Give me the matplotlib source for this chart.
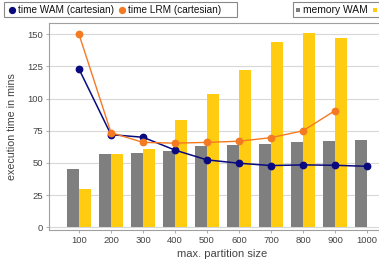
import matplotlib
matplotlib.use("Agg")
import matplotlib.pyplot as plt
from matplotlib.patches import Rectangle
from matplotlib.lines import Line2D
import numpy as np

plt.rcParams['font.family'] = ['Liberation Sans', 'DejaVu Sans']

categories = ["100", "200", "300", "400", "500", "600", "700", "800", "900", "1000"]
memory_wam = [45, 57, 57.5, 59, 63.3, 63.8, 64.6, 66, 67.4, 68.2]
memory_lrm = [30, 57, 61, 83.5, 104, 122, 144.4, 151, 146.8, None]
time_wam = [123, 72, 70, 60, 52.4, 49.8, 48, 48.5, 48.2, 47.4]
time_lrm = [150, 73.6, 66, 65.4, 66, 66.9, 69.7, 75, 90.7, None]
yticks = [0, 25, 50, 75, 100, 125, 150]

W, H = 379, 266
fig = plt.figure(figsize=(W / 100, H / 100), dpi=100)

def fx(px):
    return px / W

def fy(py):
    return 1 - py / H

# axes geometry (px); right side extends beyond the cropped figure
left, top, bottom = 49, 23, 230
step = 32.0
first = 79
x0 = -(first - left) / step
right_px = first + 9 * step + (first - left)
ax = fig.add_axes([fx(left), fy(bottom), (right_px - left) / W, (bottom - top) / H])
ax.set_xlim(x0, 9 + (first - left) / step)
ax.set_ylim(-2.1, 158.8)

x = np.arange(len(categories))
bw = 0.37
gray = "#7f7f7f"
yellow = "#ffcc11"
blue = "#0a0a80"
orange = "#f47a22"

ax.bar(x - bw / 2, memory_wam, width=bw, color=gray, zorder=2)
ly = [v if v is not None else np.nan for v in memory_lrm]
ax.bar(x + bw / 2, ly, width=bw, color=yellow, zorder=2)

tw = np.array(time_wam, dtype=float)
tl = np.array([v if v is not None else np.nan for v in time_lrm], dtype=float)
ax.plot(x, tw, color=blue, lw=1.1, marker='o', ms=4.6, zorder=3)
ax.plot(x, tl, color=orange, lw=1.0, marker='o', ms=4.6, zorder=4)

ax.set_yticks(yticks)
ax.set_xticks(x)
ax.set_xticklabels(categories)
ax.grid(axis='y', color='#d8d8d8', lw=0.8, zorder=0)
ax.set_axisbelow(True)
for s in ['right']:
    ax.spines[s].set_visible(False)
for s in ['left', 'bottom', 'top']:
    ax.spines[s].set_color('#a0a0a0')
    ax.spines[s].set_linewidth(0.8)
ax.tick_params(axis='both', labelsize=6.8, colors='#a0a0a0', labelcolor='#444444', length=2, width=0.6, pad=2.5)

fig.text(fx(12), fy(127), "execution time in mins", rotation=90, ha='center', va='center',
         fontsize=7.7, color='#444444')
fig.text(fx(222), fy(254), "max. partition size", ha='center', va='center',
         fontsize=8.0, color='#444444')

# legend 1
fig.patches.append(Rectangle((fx(4), fy(17)), fx(233), 15 / H, transform=fig.transFigure,
                             fill=False, edgecolor='#888888', lw=0.8))
fig.lines.append(Line2D([fx(12)], [fy(9.5)], marker='o', ms=4.2, color=blue, transform=fig.transFigure))
fig.text(fx(18), fy(9.8), "time WAM (cartesian)", ha='left', va='center', fontsize=7.2, color='#111111')
fig.lines.append(Line2D([fx(122)], [fy(9.5)], marker='o', ms=4.2, color=orange, transform=fig.transFigure))
fig.text(fx(128), fy(9.8), "time LRM (cartesian)", ha='left', va='center', fontsize=7.2, color='#111111')

# legend 2 (cropped on the right)
fig.patches.append(Rectangle((fx(293), fy(17)), fx(120), 15 / H, transform=fig.transFigure,
                             fill=False, edgecolor='#888888', lw=0.8))
fig.patches.append(Rectangle((fx(296), fy(11.5)), 4 / W, 4 / H, transform=fig.transFigure,
                             color=gray, lw=0))
fig.text(fx(303), fy(9.8), "memory WAM", ha='left', va='center', fontsize=7.4, color='#111111')
fig.patches.append(Rectangle((fx(373), fy(11.5)), 4 / W, 4 / H, transform=fig.transFigure,
                             color=yellow, lw=0))

fig.savefig("out.png", dpi=100)
